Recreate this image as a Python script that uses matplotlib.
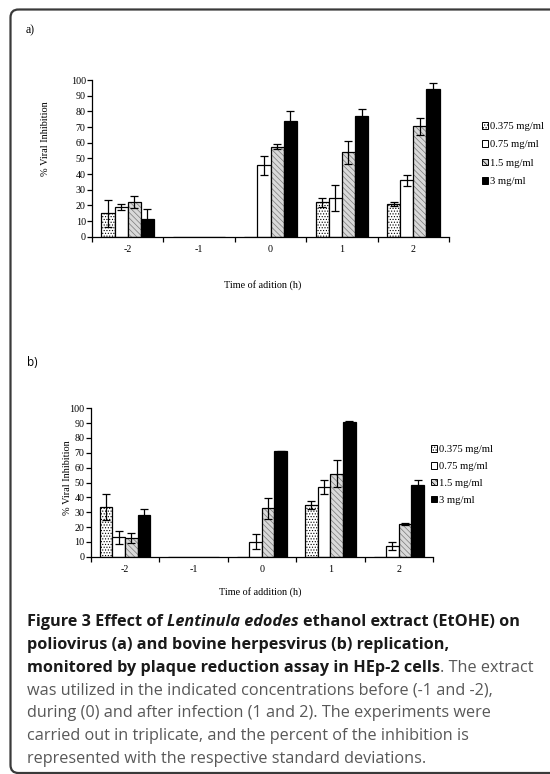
import matplotlib
matplotlib.use("Agg")
import matplotlib.pyplot as plt
from matplotlib.patches import FancyBboxPatch, Patch

W, H = 550, 774

# categories / series
times = ["-2", "-1", "0", "1", "2"]
concs = ["0.375 mg/ml", "0.75 mg/ml", "1.5 mg/ml", "3 mg/ml"]

# a) poliovirus - % viral inhibition (mean, sd)
polio_0375 = [15, 0, 0, 22, 21]
polio_075 = [19, 0, 45.5, 24.5, 36]
polio_15 = [22, 0, 57.5, 54, 70.5]
polio_3 = [11, 0, 74, 77, 94.5]
polio_0375_sd = [8.5, 0, 0, 3, 1.2]
polio_075_sd = [1.8, 0, 6.3, 8.4, 3.4]
polio_15_sd = [4, 0, 1.7, 7.3, 5.4]
polio_3_sd = [6.5, 0, 6, 4.2, 3.4]

# b) bovine herpesvirus - % viral inhibition (mean, sd)
bhv_0375 = [33.5, 0, 0, 35, 0]
bhv_075 = [13, 0, 10, 47, 7]
bhv_15 = [12.5, 0, 32.5, 56, 22]
bhv_3 = [28, 0, 71, 91, 48]
bhv_0375_sd = [9, 0, 0, 2.7, 0]
bhv_075_sd = [4.5, 0, 5, 4.5, 2.7]
bhv_15_sd = [3.2, 0, 7, 9, 0.5]
bhv_3_sd = [4.3, 0, 0.5, 0.5, 3.6]

# fill, hatch, hatch colour per concentration
styles = [
    ("white", "......", "black"),
    ("white", None, "black"),
    ("#d9d9d9", "\\\\\\\\\\\\", "#7a7a7a"),
    ("black", None, "black"),
]

plt.rcParams["font.family"] = ["Liberation Serif", "DejaVu Serif"]
plt.rcParams["hatch.linewidth"] = 0.5

fig = plt.figure(figsize=(W / 100, H / 100), dpi=100)

# full-figure axes in pixel units for frame and caption
ax0 = fig.add_axes([0, 0, 1, 1])
ax0.set_xlim(0, W)
ax0.set_ylim(H, 0)
ax0.axis("off")
ax0.add_patch(FancyBboxPatch((10.5, 9.5), 700, 763.5,
                             boxstyle="round,pad=0,rounding_size=8",
                             fill=False, edgecolor="#3a3a3a", linewidth=1.6,
                             clip_on=False))


def px_axes(left, top, right, bottom):
    return fig.add_axes([left / W, 1 - bottom / H, (right - left) / W, (bottom - top) / H])


def draw_panel(ax, series, errs, legend_xy, row_gap):
    x = range(len(times))
    width = 0.184
    for i, (vals, sd) in enumerate(zip(series, errs)):
        fc, hatch, hc = styles[i]
        pos = [k + (i - 1.5) * width for k in x]
        if hatch:
            ax.bar(pos, vals, width, color=fc, edgecolor=hc, hatch=hatch, linewidth=0)
            ax.bar(pos, vals, width, fill=False, edgecolor="black", linewidth=0.9)
        else:
            ax.bar(pos, vals, width, color=fc, edgecolor="black", linewidth=0.9)
        keep = [k for k in x if vals[k] > 0]
        ax.errorbar([pos[k] for k in keep], [vals[k] for k in keep],
                    yerr=[sd[k] for k in keep], fmt="none", ecolor="black",
                    elinewidth=0.9, capsize=2.8, capthick=0.9)
    ax.set_xlim(-0.5, len(times) - 0.5)
    ax.set_ylim(0, 100)
    ax.set_yticks(range(0, 101, 10))
    ax.set_xticks(list(x))
    ax.set_xticklabels(times)
    ax.set_xticks([k + 0.5 for k in range(-1, len(times))], minor=True)
    ax.tick_params(axis="x", which="major", length=0, labelsize=7.2, pad=6)
    ax.tick_params(axis="x", which="minor", length=3.5, width=0.9, direction="out")
    ax.tick_params(axis="y", length=3.5, width=0.9, labelsize=7.2, pad=1)
    for s in ("top", "right"):
        ax.spines[s].set_visible(False)
    for s in ("left", "bottom"):
        ax.spines[s].set_linewidth(0.9)
    handles = [Patch(facecolor=fc, edgecolor="black", hatch=h, linewidth=0.7)
               for fc, h, _ in styles]
    fig.legend(handles, concs, loc="upper left",
               bbox_to_anchor=(legend_xy[0] / W, 1 - legend_xy[1] / H),
               frameon=False, fontsize=7.6, handlelength=0.6, handleheight=0.6,
               handletextpad=0.15, labelspacing=row_gap, borderpad=0,
               borderaxespad=0)


# a) poliovirus
ax_a = px_axes(92, 80, 449, 236.7)
draw_panel(ax_a, [polio_0375, polio_075, polio_15, polio_3],
           [polio_0375_sd, polio_075_sd, polio_15_sd, polio_3_sd], (482, 122), 0.88)
ax0.text(45.6, 138.5, "% Viral Inhibition", rotation=90, ha="center", va="center", fontsize=7.4)
ax0.text(263, 285, "Time of adition (h)", ha="center", va="center", fontsize=7.3)
ax0.text(26, 30, "a)", ha="left", va="center", fontsize=8.5)

# b) bovine herpesvirus
ax_b = px_axes(90.7, 408.3, 433, 556.7)
draw_panel(ax_b, [bhv_0375, bhv_075, bhv_15, bhv_3],
           [bhv_0375_sd, bhv_075_sd, bhv_15_sd, bhv_3_sd], (431, 445), 0.74)
ax0.text(68, 478, "% Viral Inhibition", rotation=90, ha="center", va="center", fontsize=7.4)
ax0.text(260, 592, "Time of addition (h)", ha="center", va="center", fontsize=7.3)
ax0.text(27, 362, "b)", ha="left", va="center", fontsize=8.5,
         family=["Open Sans", "DejaVu Sans"])

# caption, written piece by piece so bold / italic / regular share a line
renderer = fig.canvas.get_renderer()
cap_font = ["Open Sans", "DejaVu Sans"]
cap_size = 11.7
bold = dict(weight="bold", color="#1a1a1a")
boldit = dict(weight="bold", style="italic", color="#1a1a1a")
plain = dict(weight="normal", color="#585858")

lines = [
    [("Figure 3 Effect of ", bold), ("Lentinula edodes", boldit),
     (" ethanol extract (EtOHE) on", bold)],
    [("poliovirus (a) and bovine herpesvirus (b) replication,", bold)],
    [("monitored by plaque reduction assay in HEp-2 cells", bold),
     (". The extract", plain)],
    [("was utilized in the indicated concentrations before (-1 and -2),", plain)],
    [("during (0) and after infection (1 and 2). The experiments were", plain)],
    [("carried out in triplicate, and the percent of the inhibition is", plain)],
    [("represented with the respective standard deviations.", plain)],
]


def text_width(s, kw):
    t = ax0.text(0, 0, s, fontsize=cap_size, family=cap_font, **kw)
    w = t.get_window_extent(renderer).width
    t.remove()
    return w


for n, pieces in enumerate(lines):
    x = 27
    y = 626 + 22.8 * n
    for s, kw in pieces:
        core = s.strip()
        if s.startswith(" "):
            x += text_width("a a", kw) - text_width("aa", kw)
        t = ax0.text(x, y, core, fontsize=cap_size, family=cap_font,
                     ha="left", va="baseline", **kw)
        x += t.get_window_extent(renderer).width
        if s.endswith(" "):
            x += text_width("a a", kw) - text_width("aa", kw)

fig.savefig("out.png", dpi=100)
